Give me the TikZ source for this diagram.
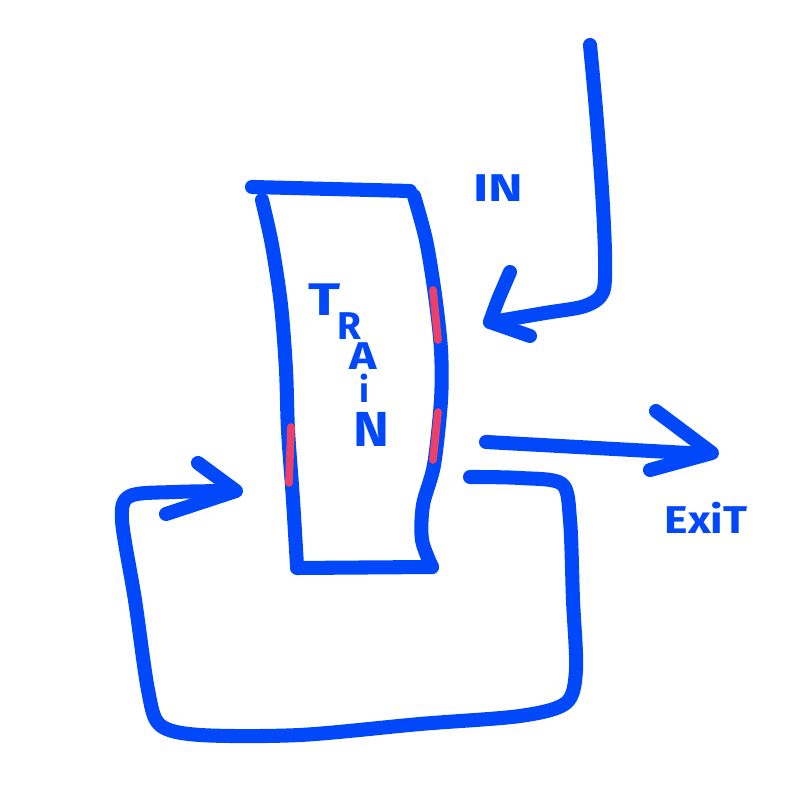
\documentclass[tikz,border=0pt]{standalone}
\usepackage{fontspec}
\setsansfont{Fira Sans}
\definecolor{penblue}{RGB}{0,72,250}
\definecolor{penred}{RGB}{235,64,104}
\begin{document}
\begin{tikzpicture}[x=0.01cm,y=-0.01cm,
  pen/.style={draw=penblue,line width=4pt,line cap=round,line join=round},
  redline/.style={draw=penred,line width=2.2pt,line cap=round},
  letter/.style={text=penblue,font=\sffamily\bfseries\fontsize{#1}{#1}\selectfont,inner sep=0pt,text depth=0pt},
  word/.style={text=penblue,font=\sffamily\bfseries\fontsize{11}{11}\selectfont,inner sep=0pt}]
\useasboundingbox (0,0) rectangle (800,786);

% train
\path[pen] (252,187) -- (410,191);
\path[pen] plot[smooth] coordinates {(262,200) (272,245) (281,305) (286,370) (288,430) (293,500) (297,566)};
\path[pen] (297,568) -- (432,567);
\path[pen] plot[smooth] coordinates {(432,567) (422,540) (423,505) (434,465) (441,400) (441,350) (435,295) (426,240) (414,196)};
\path[redline] (433,290) -- (438,340);
\path[redline] (438,412) -- (433,460);
\path[redline] (291,427) -- (289,483);

% in arrow
\path[pen] plot[smooth] coordinates {(590,45) (596,110) (602,190) (605,255) (603,292) (585,306) (545,313) (492,322)};
\path[pen] plot[smooth] coordinates {(510,272) (498,300) (490,322)};
\path[pen] (490,322) -- (530,336);

% exit arrow
\path[pen] (486,442) -- (706,454);
\path[pen] (656,411) -- (712,453) -- (650,470);

% loop arrow
\path[pen] plot[smooth] coordinates {(470,477) (520,478) (562,484) (570,520) (573,600) (576,670) (566,703) (520,716) (420,724) (300,735) (200,735) (160,725) (148,690) (135,600) (122,520) (130,496) (175,492) (232,491)};
\path[pen] (198,463) -- (236,491) -- (166,514);

% labels
\node[letter=13,xscale=1.3] (t) at (325,300) {T};
\node[letter=11] (r) at (349,326) {R};
\node[letter=11,xscale=1.2] (a) at (363,356) {A};
\node[letter=10] (i) at (364,388) {i};
\node[letter=14,xscale=1.1] (n) at (371,429) {N};
\node[word,xscale=1.35] (in) at (498,188) {IN};
\node[word,xscale=1.15] (exit) at (706,518) {ExiT};
\end{tikzpicture}
\end{document}
